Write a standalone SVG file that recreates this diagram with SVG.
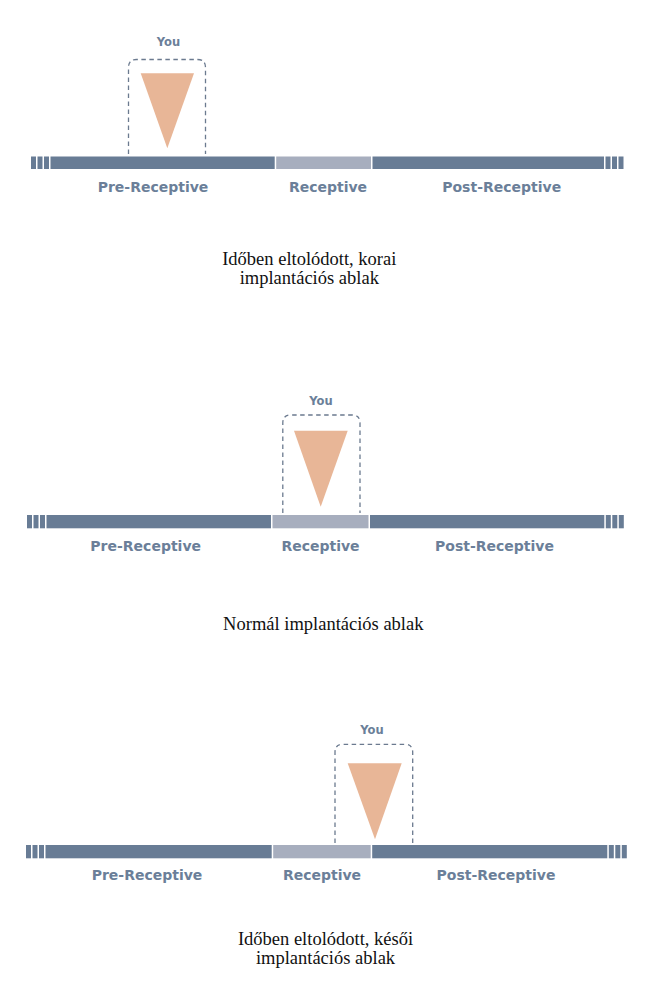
<svg xmlns="http://www.w3.org/2000/svg" width="653" height="985" viewBox="0 0 653 985">
<style>
.bar{fill:#687c95}
.rec{fill:#a7aebe}
.lbl{font-family:"DejaVu Sans",Verdana,sans-serif;font-weight:bold;font-size:14px;fill:#6b7f99;text-anchor:middle}
.you{font-family:"DejaVu Sans",Verdana,sans-serif;font-weight:bold;font-size:11.5px;fill:#6b7f99;text-anchor:middle}
.box{fill:none;stroke:#6b7a8f;stroke-width:1.3;stroke-dasharray:4.5 3.5}
.tri{fill:#e8b697}
.cap{font-family:"Liberation Serif","Times New Roman",serif;font-size:18.5px;fill:#111;text-anchor:middle}
</style>
<rect width="653" height="985" fill="#fff"/>

<!-- Panel 1 -->
<g id="timeline1">
  <rect class="bar" x="31" y="156.5" width="5" height="12.5"/>
  <rect class="bar" x="37.5" y="156.5" width="5" height="12.5"/>
  <rect class="bar" x="44" y="156.5" width="5" height="12.5"/>
  <rect class="bar" x="50.5" y="156.5" width="224.2" height="12.5"/>
  <rect class="rec" x="276.2" y="156.5" width="94.8" height="12.5"/>
  <rect class="bar" x="372.5" y="156.5" width="231.5" height="12.5"/>
  <rect class="bar" x="605.5" y="156.5" width="5" height="12.5"/>
  <rect class="bar" x="612" y="156.5" width="5" height="12.5"/>
  <rect class="bar" x="618.5" y="156.5" width="5" height="12.5"/>
  <text class="lbl" x="153" y="192">Pre-Receptive</text>
  <text class="lbl" x="328" y="192">Receptive</text>
  <text class="lbl" x="501.7" y="192">Post-Receptive</text>
</g>
<g id="marker1">
  <text class="you" x="168.5" y="46">You</text>
  <path class="box" d="M128.5,154 V67.5 Q128.5,59.5 136.5,59.5 H197.5 Q205.5,59.5 205.5,67.5 V154"/>
  <polygon class="tri" points="140.7,73.3 194,73.3 167.3,148.3"/>
</g>
<g id="caption1">
  <text class="cap" x="309.3" y="265">Időben eltolódott, korai</text>
  <text class="cap" x="309.3" y="284">implantációs ablak</text>
</g>

<!-- Panel 2 -->
<g id="timeline2">
  <rect class="bar" x="27" y="515" width="5" height="13.3"/>
  <rect class="bar" x="33.5" y="515" width="5" height="13.3"/>
  <rect class="bar" x="40" y="515" width="5" height="13.3"/>
  <rect class="bar" x="46.5" y="515" width="224.5" height="13.3"/>
  <rect class="rec" x="272.5" y="515" width="96" height="13.3"/>
  <rect class="bar" x="370" y="515" width="234.3" height="13.3"/>
  <rect class="bar" x="605.8" y="515" width="5" height="13.3"/>
  <rect class="bar" x="612.3" y="515" width="5" height="13.3"/>
  <rect class="bar" x="618.8" y="515" width="5" height="13.3"/>
  <text class="lbl" x="145.7" y="550.5">Pre-Receptive</text>
  <text class="lbl" x="320.5" y="550.5">Receptive</text>
  <text class="lbl" x="494.5" y="550.5">Post-Receptive</text>
</g>
<g id="marker2">
  <text class="you" x="321" y="405">You</text>
  <path class="box" d="M282.8,513 V423 Q282.8,415 290.8,415 H352 Q360,415 360,423 V513"/>
  <polygon class="tri" points="294,430.7 347.7,430.7 320.7,506.7"/>
</g>
<g id="caption2">
  <text class="cap" x="323.3" y="630">Normál implantációs ablak</text>
</g>

<!-- Panel 3 -->
<g id="timeline3">
  <rect class="bar" x="26" y="845" width="5" height="13.3"/>
  <rect class="bar" x="32.5" y="845" width="5" height="13.3"/>
  <rect class="bar" x="39" y="845" width="5" height="13.3"/>
  <rect class="bar" x="45.5" y="845" width="226.2" height="13.3"/>
  <rect class="rec" x="273.2" y="845" width="97.5" height="13.3"/>
  <rect class="bar" x="372.2" y="845" width="235.1" height="13.3"/>
  <rect class="bar" x="608.8" y="845" width="5" height="13.3"/>
  <rect class="bar" x="615.3" y="845" width="5" height="13.3"/>
  <rect class="bar" x="621.8" y="845" width="5" height="13.3"/>
  <text class="lbl" x="147" y="879.5">Pre-Receptive</text>
  <text class="lbl" x="322" y="879.5">Receptive</text>
  <text class="lbl" x="496" y="879.5">Post-Receptive</text>
</g>
<g id="marker3">
  <text class="you" x="372" y="734">You</text>
  <path class="box" d="M335,843 V752.3 Q335,744.3 343,744.3 H404.7 Q412.7,744.3 412.7,752.3 V843"/>
  <polygon class="tri" points="347.7,763.3 401.7,763.3 375,839.3"/>
</g>
<g id="caption3">
  <text class="cap" x="325.5" y="945">Időben eltolódott, késői</text>
  <text class="cap" x="325.5" y="964">implantációs ablak</text>
</g>
<g id="connectors"></g>
</svg>
